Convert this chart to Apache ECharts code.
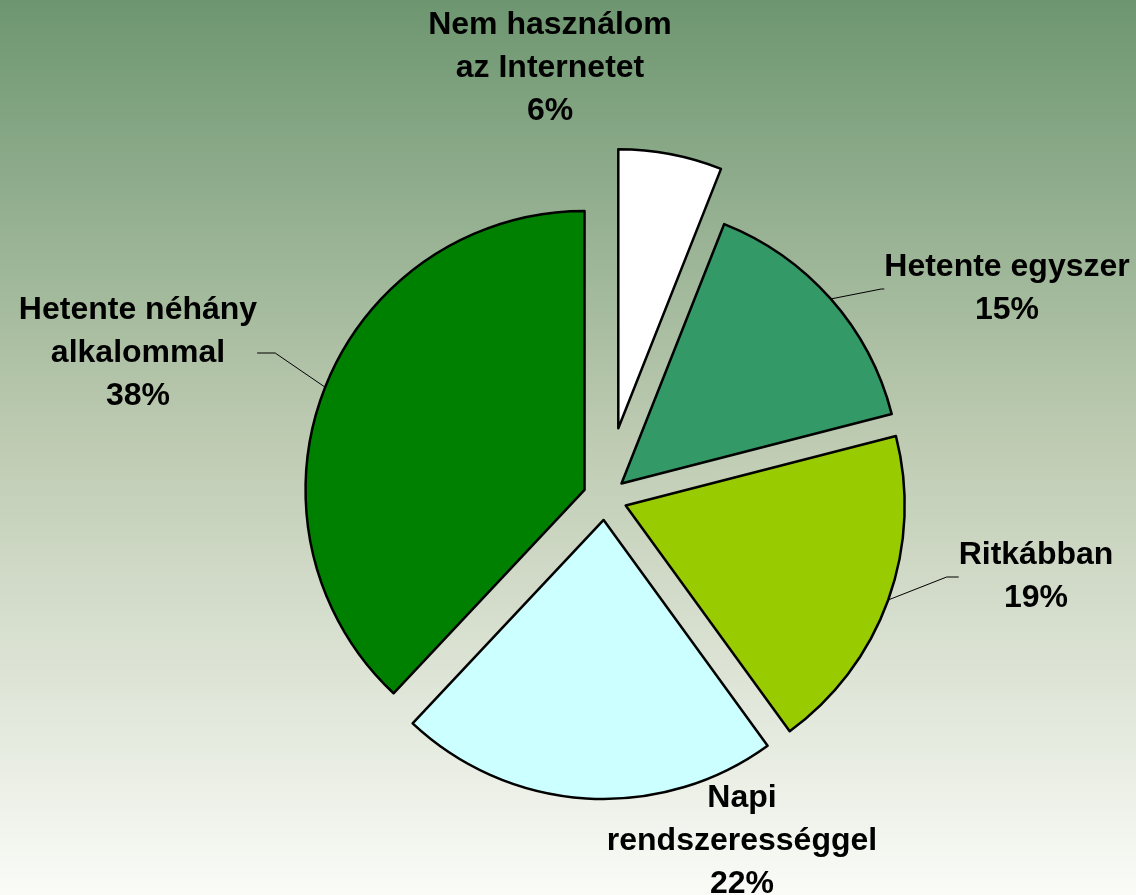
<!DOCTYPE html>
<html>
<head>
<meta charset="utf-8">
<script src="https://cdn.jsdelivr.net/npm/echarts@6/dist/echarts.min.js"></script>
<style>
  html, body { margin: 0; padding: 0; }
  #chart { width: 1136px; height: 895px; }
</style>
</head>
<body>
<div id="chart"></div>
<script>
// slices, clockwise from 12 o'clock
const labels = ['Nem használom\naz Internetet', 'Hetente egyszer', 'Ritkábban', 'Napi\nrendszerességgel', 'Hetente néhány\nalkalommal']
const shares = [6, 15, 19, 22, 38]
const colors = ['#ffffff', '#339966', '#99cc00', '#ccffff', '#008000']

// layout bits
const CX = 605
const CY = 498
const R = 279
const explode = [71, 22, 22, 22, 22]
const labelSpots = [[550, 68], [1007, 289], [1036, 577], [742, 841], [138, 353]]
const leader = [false, true, true, false, true]
const leaderTail = [0, 3, 12, 0, 18]

const chart = echarts.init(document.getElementById('chart'))
const total = shares.reduce((a, b) => a + b, 0)

let acc = 0
const series = shares.map((v, i) => {
  const mid = (acc + v / 2) / total * Math.PI * 2
  acc += v
  const ox = Math.sin(mid) * explode[i]
  const oy = -Math.cos(mid) * explode[i]
  return {
    type: 'pie',
    center: [CX + ox, CY + oy],
    radius: R,
    startAngle: 90,
    clockwise: true,
    avoidLabelOverlap: false,
    silent: true,
    animation: false,
    label: {
      position: 'outside',
      color: '#000',
      fontFamily: 'Liberation Sans, Arial, sans-serif',
      fontWeight: 'bold',
      fontSize: 32,
      lineHeight: 43,
      formatter: (p) => `${p.name}\n${p.value}%`
    },
    labelLine: {
      length: 10,
      length2: leaderTail[i],
      lineStyle: { color: '#000', width: 1 }
    },
    labelLayout: () => ({
      x: labelSpots[i][0],
      y: labelSpots[i][1],
      align: 'center',
      verticalAlign: 'middle'
    }),
    data: shares.map((w, j) => ({
      value: w,
      name: labels[j],
      itemStyle: j === i
        ? { color: colors[j], borderColor: '#000', borderWidth: 2.5 }
        : { color: 'rgba(0,0,0,0)', borderWidth: 0 },
      label: { show: j === i },
      labelLine: { show: j === i && leader[i] }
    }))
  }
})

chart.setOption({
  backgroundColor: {
    type: 'linear', x: 0, y: 0, x2: 0, y2: 1,
    colorStops: [
      { offset: 0, color: '#6d9670' },
      { offset: 0.5, color: '#bfccb3' },
      { offset: 1, color: '#fafbf7' }
    ]
  },
  series
})
</script>
</body>
</html>
